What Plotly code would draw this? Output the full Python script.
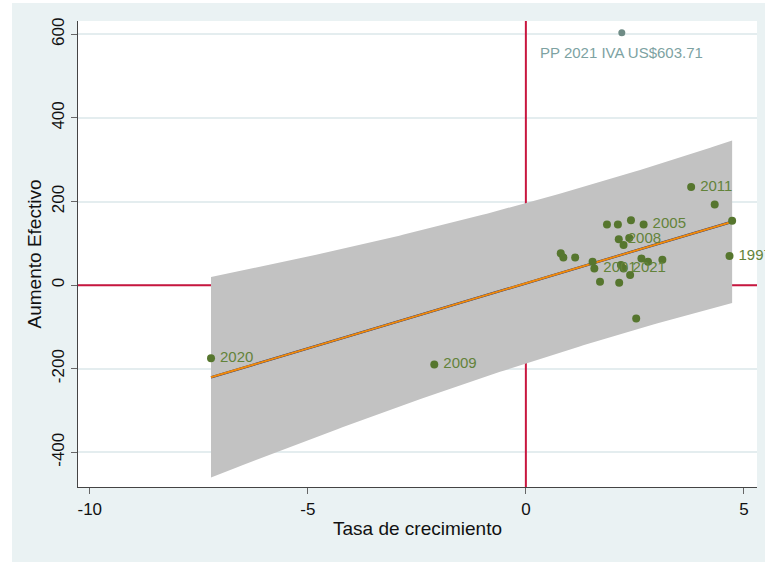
import numpy as np
import plotly.graph_objects as go

# ---- data ----
growth = [3.79, 4.33, 4.73, 4.67, 1.86, 2.11, 2.41, 2.70, 2.13, 2.37, 2.24,
          0.80, 0.86, 1.13, 1.53, 1.57, 1.70, 2.14, 2.18, 2.24, 2.39, 2.65,
          2.80, 3.13, 2.53, -7.22, -2.10]
increase = [235, 193, 154, 70, 145, 145, 155, 145, 110, 113, 96,
            76, 66, 66, 56, 40, 8, 6, 48, 40, 24, 64,
            56, 61, -80, -175, -190]
year_labels = ["2011", "", "", "1997", "", "", "", "2005", "2008", "", "",
               "", "", "", "", "2001", "", "", "", "2021", "", "",
               "", "", "", "2020", "2009"]

pp_growth = [2.20]
pp_value = [603.71]
pp_label = "PP 2021 IVA US$603.71"

x_ticks = [-10, -5, 0, 5]
x_ticktext = ["-10", "-5", "0", "5"]
y_ticks = [-400, -200, 0, 200, 400, 600]
y_ticktext = ["-400", "-200", "0", "200", "400", "600"]

x_range = [-10.27, 5.30]
y_range = [-483, 632]

# ---- linear fit with 99% prediction interval (lfitci, stdf) ----
xa = np.array(growth, dtype=float)
ya = np.array(increase, dtype=float)
n = len(xa)
b1, b0 = np.polyfit(xa, ya, 1)
resid = ya - (b0 + b1 * xa)
s = np.sqrt(np.sum(resid ** 2) / (n - 2))
xbar = xa.mean()
sxx = np.sum((xa - xbar) ** 2)
t_crit = 2.787  # t(0.995, df=25)
xg = np.linspace(xa.min(), xa.max(), 120)
yg = b0 + b1 * xg
half = t_crit * s * np.sqrt(1 + 1 / n + (xg - xbar) ** 2 / sxx)
upper = yg + half
lower = yg - half

GREEN = "#56762E"
LABEL_GREEN = "#62833A"
RED = "#C8163F"
font = "Liberation Sans, Arial, sans-serif"

fig = go.Figure()

# reference lines at zero (drawn under the band)
fig.add_trace(go.Scatter(x=x_range, y=[0, 0], mode="lines",
                         line=dict(color=RED, width=2), hoverinfo="skip", showlegend=False))
fig.add_trace(go.Scatter(x=[0, 0], y=y_range, mode="lines",
                         line=dict(color=RED, width=2), hoverinfo="skip", showlegend=False))

fig.add_trace(go.Scatter(
    x=np.concatenate([xg, xg[::-1]]), y=np.concatenate([upper, lower[::-1]]),
    fill="toself", fillcolor="#C2C2C2", line=dict(width=0), mode="lines",
    hoverinfo="skip", showlegend=False))
fig.add_trace(go.Scatter(x=xg, y=yg, mode="lines",
                         line=dict(color="#1A2A6C", width=2.4), showlegend=False))
fig.add_trace(go.Scatter(x=xg, y=yg, mode="lines",
                         line=dict(color="#F08A0C", width=2), showlegend=False))

fig.add_trace(go.Scatter(
    x=growth, y=increase, mode="markers+text",
    text=[("\u2009" + t) if t else "" for t in year_labels],
    textposition="middle right",
    textfont=dict(family=font, size=15, color=LABEL_GREEN),
    marker=dict(size=8, color=GREEN), cliponaxis=False, showlegend=False))

fig.add_trace(go.Scatter(
    x=pp_growth, y=pp_value, mode="markers",
    marker=dict(size=7, color="#6F8C86"), cliponaxis=False, showlegend=False))
fig.add_annotation(x=pp_growth[0], y=pp_value[0], text=pp_label, showarrow=False,
                   xanchor="center", yanchor="top", yshift=-9,
                   font=dict(family=font, size=15, color="#7DA2A2"))

# white outer strips (left / top)
L, R, T, B = 78, 8, 21, 75
W, H = 765, 562
pw, ph = W - L - R, H - T - B
def px2x(px):
    return (px - L) / pw
def py2y(py):
    return (H - B - py) / ph
fig.add_shape(type="rect", xref="paper", yref="paper", x0=px2x(-5), x1=px2x(12),
              y0=py2y(H + 5), y1=py2y(-5), fillcolor="white", line=dict(width=0),
              layer="below")
fig.add_shape(type="rect", xref="paper", yref="paper", x0=px2x(-5), x1=px2x(W + 5),
              y0=py2y(3), y1=py2y(-5), fillcolor="white", line=dict(width=0),
              layer="below")

fig.update_layout(
    width=W, height=H,
    margin=dict(l=L, r=R, t=T, b=B, autoexpand=False),
    paper_bgcolor="#EAF2F3", plot_bgcolor="white",
    font=dict(family=font, color="#111111"),
    showlegend=False,
    xaxis=dict(range=x_range, tickvals=x_ticks, ticktext=x_ticktext,
               ticks="outside", ticklen=6, automargin=False,
               tickcolor="#666666", showgrid=False, zeroline=False,
               showline=True, linecolor="#444444", linewidth=1.2,
               tickfont=dict(size=17),
               title=dict(text="Tasa de crecimiento", font=dict(size=19), standoff=4)),
    yaxis=dict(range=y_range, tickvals=y_ticks, ticktext=y_ticktext,
               ticks="outside", ticklen=6, automargin=False,
               tickcolor="#666666", showgrid=True, gridcolor="#E4EDEF", gridwidth=1.5,
               zeroline=False, showline=True, linecolor="#444444", linewidth=1.2,
               tickangle=-90, tickfont=dict(size=17),
               title=dict(text="Aumento Efectivo", font=dict(size=19), standoff=2)),
)

fig.write_html("out.html", config={"displayModeBar": False},
               post_script="document.body.style.margin='0';document.body.style.overflow='hidden';")
